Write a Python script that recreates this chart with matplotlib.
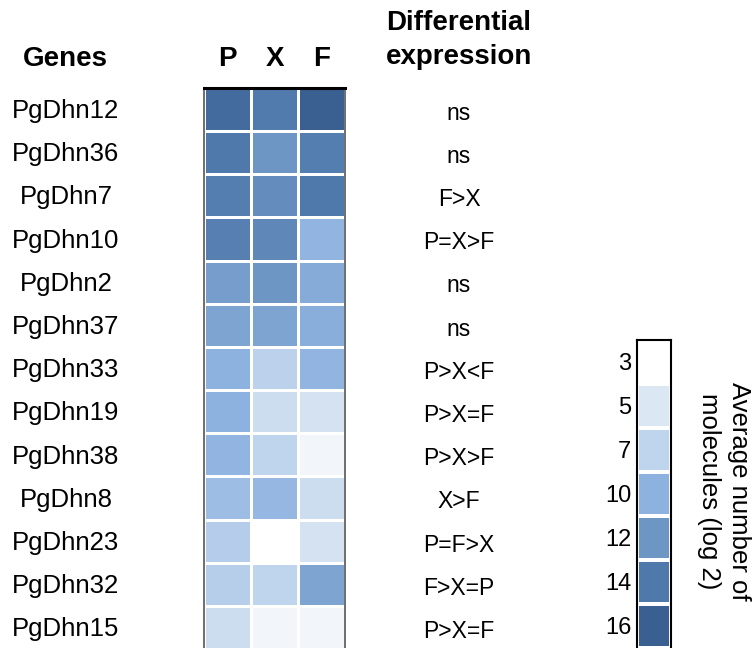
import numpy as np
import matplotlib
matplotlib.use("Agg")
import matplotlib.pyplot as plt
from matplotlib.colors import LinearSegmentedColormap, Normalize

plt.rcParams['font.family'] = ['Liberation Sans', 'DejaVu Sans']

genes = ["PgDhn12", "PgDhn36", "PgDhn7", "PgDhn10", "PgDhn2", "PgDhn37", "PgDhn33",
         "PgDhn19", "PgDhn38", "PgDhn8", "PgDhn23", "PgDhn32", "PgDhn15"]
tissues = ["P", "X", "F"]
# Average number of molecules (log 2)
val_P = [15.0, 14.0, 13.6, 13.5, 11.5, 11.0, 10.0, 10.0, 9.8, 9.0, 7.6, 7.5, 6.0]
val_X = [13.8, 12.0, 12.6, 13.0, 12.0, 11.0, 7.2, 6.0, 7.0, 9.5, 3.0, 7.0, 3.8]
val_F = [16.0, 13.6, 14.0, 9.8, 10.5, 10.3, 9.8, 5.5, 3.8, 6.0, 5.5, 11.0, 3.8]
diff_expr = ["ns", "ns", "F>X", "P=X>F", "ns", "ns", "P>X<F", "P>X=F", "P>X>F",
             "X>F", "P=F>X", "F>X=P", "P>X=F"]
cbar_levels = [3, 5, 7, 10, 12, 14, 16]
cbar_colors = ["#ffffff", "#dce7f4", "#bfd4ed", "#8eb2e0", "#6e96c4", "#4f78ab", "#3a5f91"]

vmin, vmax = cbar_levels[0], cbar_levels[-1]
anchors = [((l - vmin) / (vmax - vmin), c) for l, c in zip(cbar_levels, cbar_colors)]
cmap = LinearSegmentedColormap.from_list("blues_custom", anchors)
norm = Normalize(vmin=vmin, vmax=vmax)

W, H = 755, 648
fig = plt.figure(figsize=(W / 100, H / 100), dpi=100)

def px_axes(x0, y0, x1, y1):
    return fig.add_axes([x0 / W, 1 - y1 / H, (x1 - x0) / W, (y1 - y0) / H])

# Heatmap
data = np.array([val_P, val_X, val_F]).T
ax = px_axes(204, 88, 345, 649)
ax.pcolormesh(np.arange(len(tissues) + 1), np.arange(len(genes) + 1), data,
              cmap=cmap, norm=norm, edgecolors="white", linewidth=1.8)
ax.set_xlim(0, len(tissues))
ax.set_ylim(len(genes), 0)
ax.set_xticks([])
ax.set_yticks([])
for s in ["left", "right"]:
    ax.spines[s].set_color("#555555")
    ax.spines[s].set_linewidth(1.2)
ax.spines["top"].set_color("black")
ax.spines["top"].set_linewidth(2.2)
ax.spines["bottom"].set_visible(False)

# Column headers
for j, t in enumerate(tissues):
    ax.text(j + 0.5, -0.68, t, ha="center", va="center", fontsize=20,
            fontweight="bold", clip_on=False)

# Gene labels and differential expression
for i, (g, d) in enumerate(zip(genes, diff_expr)):
    ax.text(66 / W, 1 - (111 + i * 43.2) / H, g, transform=fig.transFigure,
            ha="center", va="center", fontsize=18.5)
    ax.text(459 / W, 1 - (113 + i * 43.2) / H, d, transform=fig.transFigure,
            ha="center", va="center", fontsize=16.5)

fig.text(65 / W, 1 - 59 / H, "Genes", ha="center", va="center", fontsize=20,
         fontweight="bold")
fig.text(459 / W, 1 - 40 / H, "Differential\nexpression", ha="center", va="center",
         fontsize=20, fontweight="bold", linespacing=1.45)

# Colorbar (discrete levels)
cax = px_axes(637, 340, 671, 648)
lv = np.array(cbar_levels, dtype=float).reshape(-1, 1)
cax.pcolormesh(np.arange(2), np.arange(len(cbar_levels) + 1), lv, cmap=cmap, norm=norm,
               edgecolors="white", linewidth=1.5)
cax.set_xlim(0, 1)
cax.set_ylim(len(cbar_levels), 0)
cax.set_xticks([])
cax.set_yticks(np.arange(len(cbar_levels)) + 0.5)
cax.set_yticklabels([str(l) for l in cbar_levels], fontsize=17)
cax.tick_params(axis="y", length=0, pad=4)
for s in cax.spines.values():
    s.set_color("black")
    s.set_linewidth(1.5)
cax.spines["bottom"].set_visible(False)
fig.text(724 / W, 1 - 491 / H, "Average number of\nmolecules (log 2)", rotation=270,
         ha="center", va="center", fontsize=18.5, linespacing=1.35)

fig.savefig("out.png", dpi=100)
